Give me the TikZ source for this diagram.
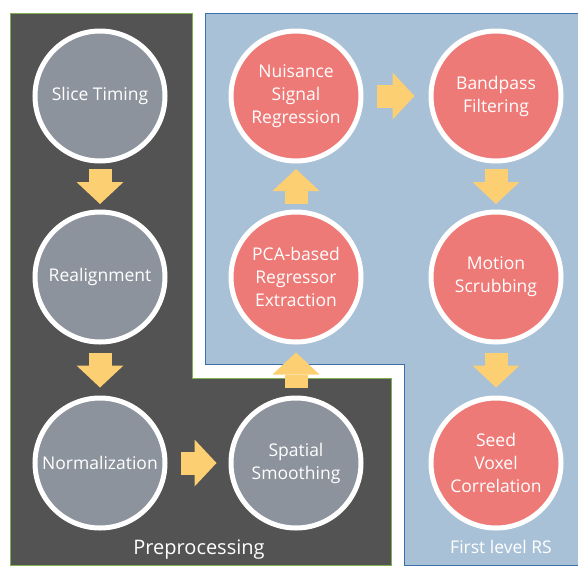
\documentclass[tikz,border=0pt]{standalone}
\usepackage{fontspec}
\setmainfont{Open Sans}
\usetikzlibrary{arrows.meta}
\definecolor{panelgray}{HTML}{535353}
\definecolor{panelblue}{HTML}{A9C1D7}
\definecolor{stagegray}{HTML}{8D939D}
\definecolor{stagered}{HTML}{EE7A77}
\definecolor{flowyellow}{HTML}{FCCF72}
\definecolor{edgegreen}{HTML}{7FAF50}
\definecolor{edgeblue}{HTML}{3A6FA8}
\tikzset{
  stage/.style={circle, draw=white, line width=5pt, minimum size=130pt,
    text=white, align=center, font=\fontsize{17.5}{23}\selectfont},
  prep/.style={stage, fill=stagegray},
  rs/.style={stage, fill=stagered},
  flow/.style={draw=flowyellow, line width=23pt,
    -{Triangle[width=47pt,length=22pt,line width=0pt,color=flowyellow]}},
  panellabel/.style={text=white}
}
\begin{document}
\begin{tikzpicture}[x=1pt,y=-1pt]
\useasboundingbox (0,0) rectangle (578,565);
\fill[white] (0,0) rectangle (578,565);
% panels
\filldraw[fill=panelgray, draw=edgegreen, line width=0.7pt] (10,13) -- (192,13) -- (192,378) -- (391,378) -- (391,565) -- (10,565) -- cycle;
\filldraw[fill=panelblue, draw=edgeblue, line width=0.8pt] (205,13) -- (578,13) -- (578,565) -- (404,565) -- (404,364) -- (205,364) -- cycle;
% preprocessing
\node[prep] (st) at (100,96) {Slice Timing};
\node[prep] (ra) at (100,277) {Realignment};
\node[prep] (no) at (100,463) {Normalization};
\node[prep] (ss) at (296,463) {Spatial\\Smoothing};
% first level
\node[rs] (pca) at (296,277) {PCA-based\\Regressor\\Extraction};
\node[rs] (nsr) at (296,96) {Nuisance\\Signal\\Regression};
\node[rs] (bp) at (496,96) {Bandpass\\Filtering};
\node[rs] (ms) at (496,277) {Motion\\Scrubbing};
\node[rs] (svc) at (496,463) {Seed\\Voxel\\Correlation};
% arrows
\draw[flow, shorten <=5.5pt, shorten >=5.5pt] (st) -- (ra);
\draw[flow, shorten <=8pt, shorten >=8pt] (ra) -- (no);
\draw[flow, shorten <=13pt, shorten >=12pt] (no) -- (ss);
\draw[flow, shorten <=8pt, shorten >=8pt] (ss) -- (pca);
\draw[flow, shorten <=5.5pt, shorten >=5.5pt] (pca) -- (nsr);
\draw[flow, shorten <=13pt, shorten >=14pt] (nsr) -- (bp);
\draw[flow, shorten <=5.5pt, shorten >=5.5pt] (bp) -- (ms);
\draw[flow, shorten <=8pt, shorten >=8pt] (ms) -- (svc);
% labels
\node[panellabel, font=\fontsize{20}{24}\selectfont] (pre) at (199,550) {Preprocessing};
\node[panellabel, font=\fontsize{17.5}{21}\selectfont] (first) at (501,547) {First level RS};
\end{tikzpicture}
\end{document}
